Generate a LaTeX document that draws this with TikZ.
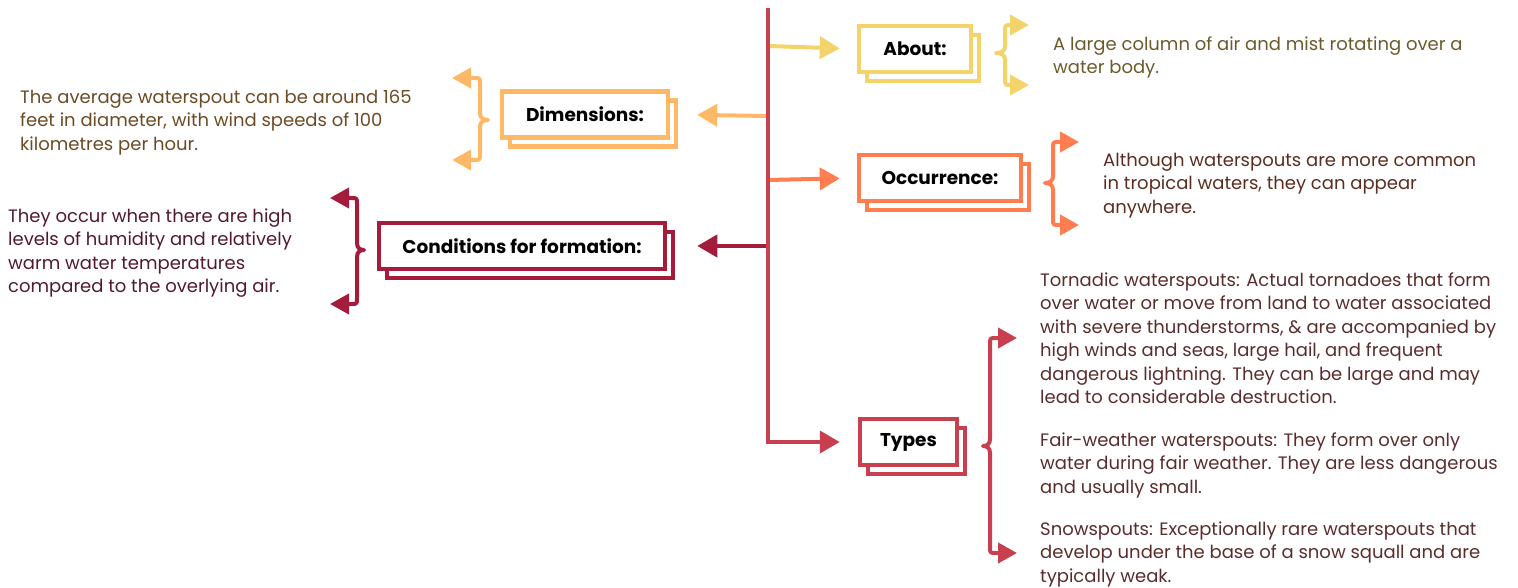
\documentclass[tikz,border=0pt]{standalone}
\usepackage{fontspec}
\setmainfont{Poppins}
\usetikzlibrary{arrows.meta,shadows}

% line colours
\definecolor{cYellow}{HTML}{F2D46A}
\definecolor{cPeach}{HTML}{FFB865}
\definecolor{cWine}{HTML}{A51B3B}
\definecolor{cCoral}{HTML}{FF7D4F}
\definecolor{cRed}{HTML}{C8404F}
% text colours
\definecolor{tAbout}{HTML}{6B5A2C}
\definecolor{tDims}{HTML}{6C4A24}
\definecolor{tCond}{HTML}{521A2B}
\definecolor{tOcc}{HTML}{5B2D20}
\definecolor{tTypes}{HTML}{5B2C2E}

\tikzset{
  conn/.style={line width=4pt, color=#1, -{Triangle[length=20pt,width=22pt]}},
  brc/.style={line width=4pt, color=#1, line join=round,
    {Triangle[length=19pt,width=20pt]}-{Triangle[length=19pt,width=20pt]}},
  card/.style={draw=#1, fill=white, line width=4.5pt, minimum height=46pt,
    inner sep=0pt, text=black, font=\bfseries\fontsize{18.5}{22}\selectfont,
    copy shadow={shadow xshift=8pt, shadow yshift=-9pt, draw=#1, fill=white, line width=4.5pt}},
  body/.style={anchor=north west, inner sep=0pt, align=left, text=#1,
    font=\fontsize{18}{23.5}\selectfont},
}

% curly brace with arrow-tipped ends:
% #1 colour, #2 stem x, #3 tip x, #4 top y, #5 middle y, #6 bottom y, #7 cusp offset (signed)
\newcommand\arrowbrace[7]{%
  \pgfmathsetmacro\bs{ifthenelse(#3>#2,1,-1)}%
  \draw[brc=#1] (#3,#4) -- ({#2+6*\bs},#4)
    .. controls (#2,#4) .. (#2,{#4+6})
    -- (#2,{#5-7})
    .. controls (#2,{#5-2}) and ({#2+0.4*(#7)},#5) .. ({#2+(#7)},#5)
    .. controls ({#2+0.4*(#7)},#5) and (#2,{#5+2}) .. (#2,{#5+7})
    -- (#2,{#6-6})
    .. controls (#2,#6) .. ({#2+6*\bs},#6)
    -- (#3,#6);%
}

\begin{document}
\begin{tikzpicture}[x=1pt,y=-1pt]
\useasboundingbox (0,0) rectangle (1518,588);

% topic cards
\node[card=cYellow, minimum width=112pt] (about) at (915,49) {About:};
\node[card=cPeach, minimum width=166pt] (dims) at (585,114.5) {Dimensions:};
\node[card=cWine, minimum width=286pt] (cond) at (522,246) {Conditions for formation:};
\node[card=cCoral, minimum width=162pt] (occ) at (940,178) {Occurrence:};
\node[card=cRed, minimum width=97pt] (types) at (908.5,442) {Types};

% junctions on the main stem
\coordinate (trunktop) at (768,8);
\coordinate (jAbout) at (768,46);
\coordinate (jDims) at (768,116);
\coordinate (jOcc) at (768,180);
\coordinate (jCond) at (768,246);

% branches
\draw[conn=cYellow, shorten >=17pt] (jAbout) -- (about.west);
\draw[conn=cPeach, shorten >=27pt] (jDims) -- (dims.east);
\draw[conn=cCoral, shorten >=17pt] (jOcc) -- (occ.west);
\draw[conn=cWine, shorten >=30pt] (jCond) -- (cond.east);
\draw[conn=cRed, shorten >=18pt] (trunktop) |- (types.west);

% braces
\arrowbrace{cYellow}{1005}{1029}{25}{53}{85}{-9}
\arrowbrace{cPeach}{480}{452}{78}{120}{160}{8}
\arrowbrace{cWine}{357}{330}{198}{250}{304}{7}
\arrowbrace{cCoral}{1053}{1079}{142}{183}{225}{-8}
\arrowbrace{cRed}{990}{1017}{338}{446}{553}{-7}

% descriptions
\node[body=tAbout] (aboutTxt) at (1053,36.5) {A large column of air and mist rotating over a\\water body.};
\node[body=tDims] (dimsTxt) at (20,89.5) {The average waterspout can be around 165\\feet in diameter, with wind speeds of 100\\kilometres per hour.};
\node[body=tCond] (condTxt) at (8,208.5) {They occur when there are high\\levels of humidity and relatively\\warm water temperatures\\compared to the overlying air.};
\node[body=tOcc] (occTxt) at (1103,152.5) {Although waterspouts are more common\\in tropical waters, they can appear\\anywhere.};
\node[body=tTypes] (typesA) at (1040,272.5) {Tornadic waterspouts: Actual tornadoes that form\\over water or move from land to water associated\\with severe thunderstorms, \& are accompanied by\\high winds and seas, large hail, and frequent\\dangerous lightning. They can be large and may\\lead to considerable destruction.};
\node[body=tTypes] (typesB) at (1040,432.5) {Fair-weather waterspouts: They form over only\\water during fair weather. They are less dangerous\\and usually small.};
\node[body=tTypes] (typesC) at (1040,521.5) {Snowspouts: Exceptionally rare waterspouts that\\develop under the base of a snow squall and are\\typically weak.};
\end{tikzpicture}
\end{document}
